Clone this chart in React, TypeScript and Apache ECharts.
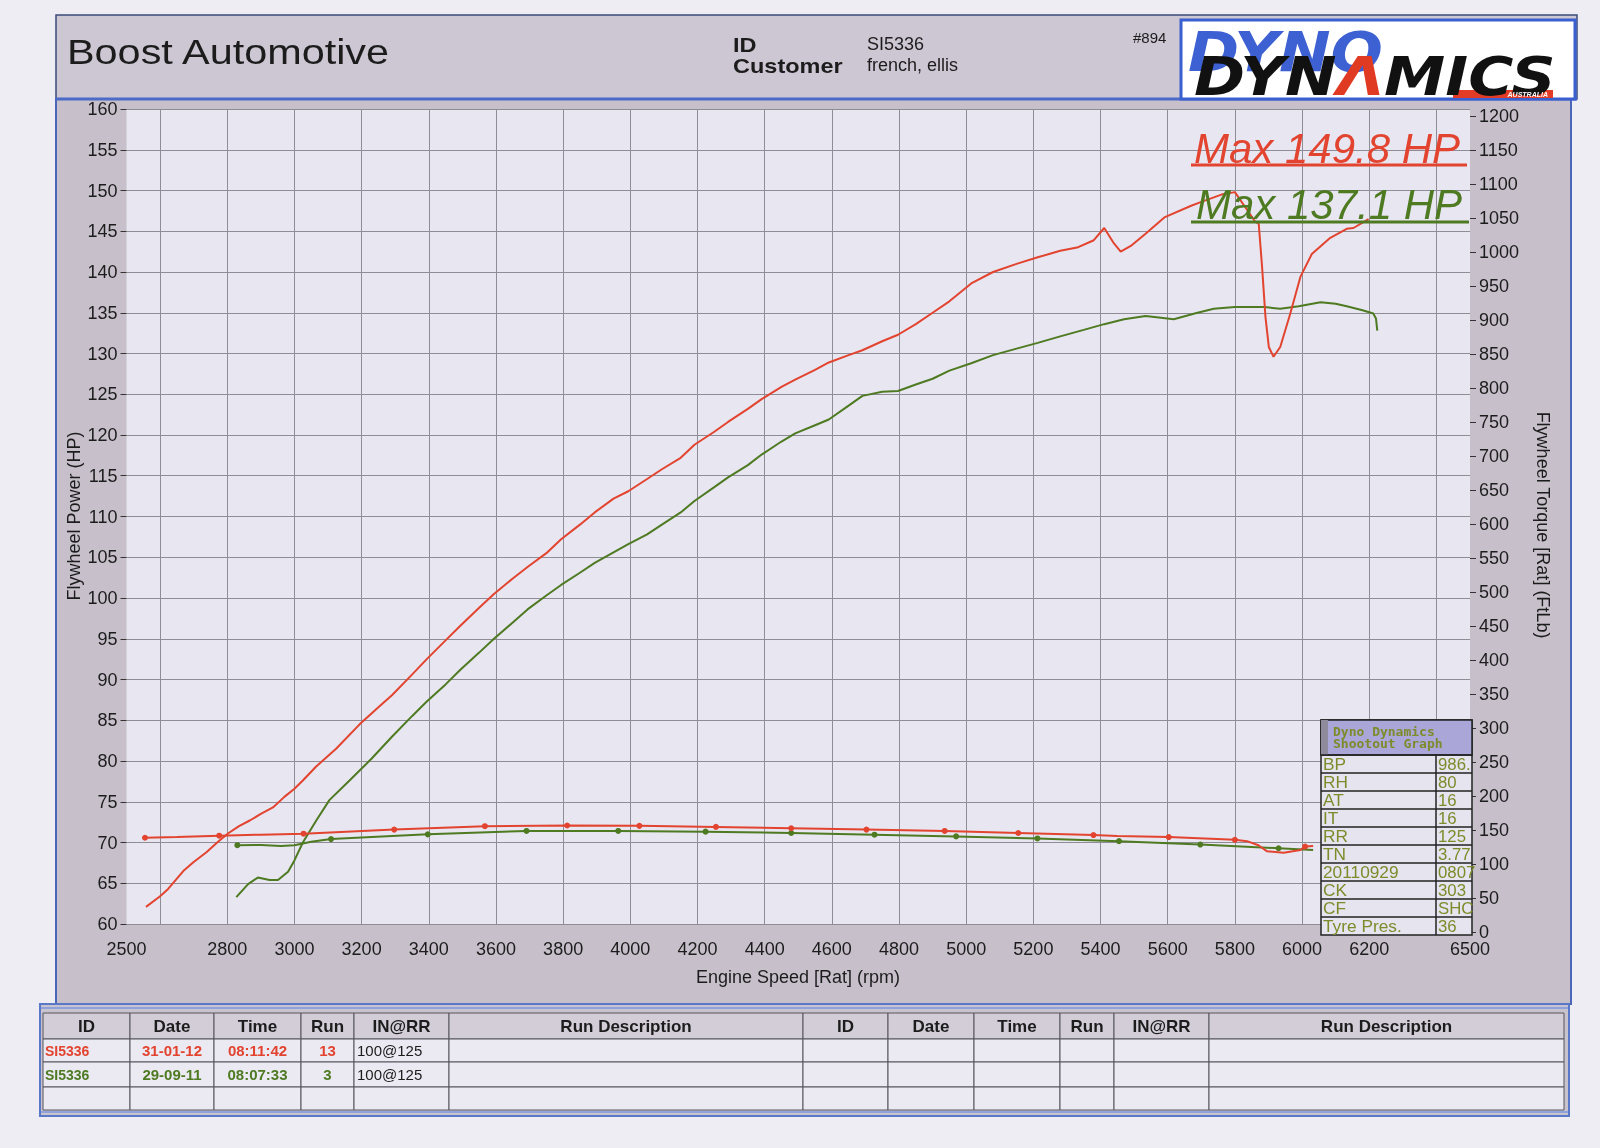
import React, { useEffect, useRef } from "react";
import * as echarts from "echarts";

// ---------- DATA ----------
const redPowerRpm = [2558,2600,2624,2669,2700,2738,2770,2802,2835,2867,2900,2936,2970,3000,3025,3064,3124,3194,3250,3291,3350,3394,3450,3494,3550,3594,3650,3694,3750,3794,3850,3894,3950,3994,4050,4094,4150,4191,4250,4291,4350,4391,4450,4491,4550,4591,4650,4691,4750,4797,4850,4900,4950,5015,5080,5150,5213,5280,5330,5380,5411,5440,5460,5490,5534,5590,5668,5700,5760,5800,5830,5860,5871,5881,5891,5901,5915,5935,5965,5995,6029,6084,6133,6153,6198];
const redPowerHp = [62.1,63.4,64.3,66.5,67.6,68.8,70.0,71.1,72.0,72.7,73.5,74.3,75.6,76.6,77.6,79.3,81.5,84.5,86.6,88.1,90.6,92.5,94.8,96.6,98.8,100.5,102.4,103.8,105.5,107.2,109.0,110.5,112.2,113.1,114.6,115.8,117.2,118.8,120.4,121.6,123.2,124.4,125.9,126.8,128.0,128.9,129.8,130.4,131.5,132.3,133.6,135.0,136.4,138.6,140.0,141.0,141.8,142.6,143.0,143.9,145.4,143.5,142.5,143.2,144.7,146.7,148.1,148.6,149.5,149.8,148.0,146.2,145.9,140.6,134.5,130.8,129.6,130.8,134.9,139.4,142.2,144.2,145.3,145.4,146.5];

const greenPowerRpm = [2827,2862,2891,2926,2951,2981,3000,3025,3065,3104,3164,3230,3291,3350,3394,3450,3494,3550,3594,3650,3694,3750,3794,3850,3894,3950,3994,4050,4094,4150,4191,4250,4291,4350,4391,4450,4491,4550,4591,4650,4691,4750,4797,4850,4900,4950,5015,5080,5150,5213,5280,5350,5411,5470,5534,5580,5618,5680,5737,5800,5886,5935,5990,6055,6100,6133,6180,6212,6220,6224];
const greenPowerHp = [63.3,64.9,65.7,65.4,65.4,66.4,67.8,70.0,72.7,75.2,77.6,80.3,83.0,85.5,87.3,89.4,91.2,93.3,95.0,97.0,98.6,100.3,101.6,103.1,104.3,105.6,106.6,107.8,109.0,110.5,111.9,113.6,114.8,116.3,117.6,119.2,120.2,121.2,121.9,123.6,124.8,125.3,125.4,126.2,126.9,127.9,128.8,129.8,130.6,131.3,132.1,132.9,133.6,134.2,134.6,134.4,134.2,134.9,135.5,135.7,135.7,135.5,135.8,136.3,136.1,135.8,135.3,134.9,134.3,132.8];

const redTorqueRpm = [2555,2650,2776,2900,3027,3297,3567,3812,4027,4255,4479,4703,4936,5155,5379,5450,5603,5800,5836,5870,5896,5945,5995,6009,6033];
const redTorqueFtlb = [127,128,130,131.5,133,139,144,145,144.5,143,141,139,137,134,131,129.5,128,124,122,116,107,105,109,114,115];
const redTorqueMarked = [1,0,1,0,1,1,1,1,1,1,1,1,1,1,1,0,1,1,0,0,0,0,0,1,0];

const greenTorqueRpm = [2830,2900,2960,3000,3050,3109,3397,3691,3964,4224,4479,4727,4970,5212,5455,5697,5930,6033];
const greenTorqueFtlb = [116,116.5,115,116,121,125,132,137,137,136,134,131.5,129,126,122,117,111.5,109];
const greenTorqueMarked = [1,0,0,0,0,1,1,1,1,1,1,1,1,1,1,1,1,0];

const xShownLabels = [2500,2800,3000,3200,3400,3600,3800,4000,4200,4400,4600,4800,5000,5200,5400,5600,5800,6000,6200,6500];

const maxRedLabel = "Max 149.8 HP";
const maxGreenLabel = "Max 137.1 HP";

const tableHeaders = ["ID", "Date", "Time", "Run", "IN@RR", "Run Description"];
const runIds = ["SI5336", "SI5336"];
const runDates = ["31-01-12", "29-09-11"];
const runTimes = ["08:11:42", "08:07:33"];
const runNumbers = ["13", "3"];
const runInRR = ["100@125", "100@125"];

const infoLabels = ["BP", "RH", "AT", "IT", "RR", "TN", "20110929", "CK", "CF", "Tyre Pres."];
const infoValues = ["986.", "80", "16", "16", "125", "3.77", "0807", "303", "SHC", "36"];

// ---------- STYLE ----------
const RED = "#e2442f";
const GREEN = "#4e7a22";
const OLIVE = "#7d8b2b";
const FONT = '"Liberation Sans", Arial, sans-serif';

const PLOT_L = 126.5;
const PLOT_T = 109;
const PLOT_W = 1343.5;
const PLOT_H = 815;
// the scanned torque scale sits a few pixels lower than the power scale
const TQ_T = 116;
const TQ_H = 816;

function zip(a: number[], b: number[]) {
  return a.map((v, i) => [v, b[i]]);
}

function buildGraphic() {
  const els: any[] = [];
  const text = (x: number, y: number, t: string, font: string, fill: string, align = "left", vAlign = "middle", z = 5, extra: any = {}) => ({
    type: "text",
    x,
    y,
    z,
    silent: true,
    ...extra,
    style: { text: t, font, fill, textAlign: align, textVerticalAlign: vAlign, align, verticalAlign: vAlign },
  });
  const rect = (x: number, y: number, w: number, h: number, style: any, z = -10) => ({
    type: "rect", z, silent: true, shape: { x, y, width: w, height: h }, style,
  });
  const line = (x1: number, y1: number, x2: number, y2: number, stroke: string, lw: number, z = -10) => ({
    type: "line", z, silent: true, shape: { x1, y1, x2, y2 }, style: { stroke, lineWidth: lw },
  });

  // page & panels
  els.push(rect(0, 0, 1600, 1148, { fill: "#eeedf4" }, -30));
  els.push(rect(56, 15, 1521, 84, { fill: "#cdc6d3", stroke: "#3b4a7a", lineWidth: 1.5 }, -29));
  els.push(rect(56, 99, 1515, 905, { fill: "#c7c0cb", stroke: "#4a66b8", lineWidth: 2 }, -29));
  els.push(line(56, 99, 1577, 99, "#4a6bc8", 3, -28));
  els.push(rect(PLOT_L, PLOT_T, PLOT_W, PLOT_H, { fill: "#e8e6f1" }, -25));

  // header texts
  els.push(text(67, 51, "Boost Automotive", `36px ${FONT}`, "#1c1c1c", "left", "middle", 5, { scaleX: 1.15 }));
  els.push(text(733, 45, "ID", `bold 21px ${FONT}`, "#1c1c1c", "left", "middle", 5, { scaleX: 1.12 }));
  els.push(text(733, 66, "Customer", `bold 21px ${FONT}`, "#1c1c1c", "left", "middle", 5, { scaleX: 1.12 }));
  els.push(text(867, 44, "SI5336", `18px ${FONT}`, "#1c1c1c"));
  els.push(text(867, 65, "french, ellis", `18px ${FONT}`, "#1c1c1c"));
  els.push(text(1133, 37, "#894", `15px ${FONT}`, "#1c1c1c"));

  // logo
  els.push(rect(1181, 20, 394, 79, { fill: "#ffffff", stroke: "#3a5fcf", lineWidth: 3 }, -20));
  els.push(text(1188, 51, "DYNO", `italic bold 56px "DejaVu Sans"`, "#3d61d2", "left", "middle", 1, { scaleX: 1.1 }));
  els.push(rect(1453, 90, 100, 8, { fill: "#e23c26" }, 2));
  els.push(text(1548, 94.5, "AUSTRALIA", `italic bold 7px ${FONT}`, "#ffffff", "right", "middle", 3));
  els.push({
    type: "text", x: 1194, y: 76, z: 2, silent: true, scaleX: 1.14,
    style: {
      text: "{k|DYN}{r|Λ}{k|MICS}",
      textVerticalAlign: "middle", verticalAlign: "middle",
      rich: {
        k: { font: `italic bold 54px "DejaVu Sans"`, fill: "#111111" },
        r: { font: `italic bold 54px "DejaVu Sans"`, fill: "#e03a22" },
      },
    },
  });

  // axis names
  els.push(text(73.5, 516, "Flywheel Power (HP)", `18px ${FONT}`, "#1c1c1c", "center", "middle", 5, { rotation: Math.PI / 2 }));
  els.push(text(1543, 525, "Flywheel Torque [Rat] (FtLb)", `18px ${FONT}`, "#1c1c1c", "center", "middle", 5, { rotation: -Math.PI / 2 }));
  els.push(text(798, 977, "Engine Speed [Rat] (rpm)", `18px ${FONT}`, "#1c1c1c", "center", "middle"));

  // max labels
  els.push(text(1194, 148, maxRedLabel, `italic 42px ${FONT}`, RED, "left", "middle", 20));
  els.push(line(1191, 165, 1467, 165, RED, 3, 20));
  els.push(text(1196, 204, maxGreenLabel, `italic 42px ${FONT}`, GREEN, "left", "middle", 20));
  els.push(line(1191, 222, 1469, 222, GREEN, 3, 20));

  // info box
  const bx = 1321, by = 720, bw = 151, hh = 35, rh = 18;
  els.push(rect(bx, by, bw, hh + rh * infoLabels.length, { fill: "#e6e4ee", stroke: "#222", lineWidth: 1.5 }, 20));
  els.push(rect(bx, by, bw, hh, { fill: "#aaa6d8", stroke: "#222", lineWidth: 1.5 }, 21));
  els.push(rect(bx, by, 7, hh, { fill: "#8f8b9c" }, 22));
  els.push(text(bx + 12, by + 11, "Dyno Dynamics", `bold 13px "DejaVu Sans Mono"`, OLIVE, "left", "middle", 23));
  els.push(text(bx + 12, by + 23, "Shootout Graph", `bold 13px "DejaVu Sans Mono"`, OLIVE, "left", "middle", 23));
  infoLabels.forEach((lab, i) => {
    const y = by + hh + i * rh;
    els.push(line(bx, y, bx + bw, y, "#222", 1.5, 22));
    els.push(text(bx + 2, y + rh / 2 + 0.5, lab, `16px ${FONT}`, OLIVE, "left", "middle", 23, { scaleX: 1.08 }));
    els.push(text(bx + 117, y + rh / 2 + 0.5, infoValues[i], `16px ${FONT}`, OLIVE, "left", "middle", 23, { scaleX: 1.05 }));
  });
  els.push(line(bx + 115, by + hh, bx + 115, by + hh + rh * infoLabels.length, "#222", 1.5, 22));

  // bottom table
  els.push(rect(40, 1003, 1529, 114, { fill: "#c9c3cd" }, -29));
  els.push(line(40, 1004, 1569, 1004, "#5a78c8", 2, -27));
  els.push(line(40, 1008, 1569, 1008, "#8ea3de", 2, -27));
  els.push(line(40, 1112, 1569, 1112, "#8ea3de", 2, -27));
  els.push(line(40, 1116, 1569, 1116, "#5a78c8", 2, -27));
  els.push(line(40, 1003, 40, 1117, "#5a78c8", 2, -27));
  els.push(line(1569, 1003, 1569, 1117, "#5a78c8", 2, -27));
  const rowEdges = [1013, 1039, 1062, 1087, 1110];
  const groups = [
    [43, 130, 214, 301, 354, 449, 803],
    [803, 888, 974, 1060, 1114, 1209, 1564],
  ];
  groups.forEach((cols, g) => {
    for (let r = 0; r < 4; r++) {
      for (let c = 0; c < 6; c++) {
        els.push(rect(cols[c], rowEdges[r], cols[c + 1] - cols[c], rowEdges[r + 1] - rowEdges[r], {
          fill: r === 0 ? "#d3cdd8" : "#ebe9f1", stroke: "#55555c", lineWidth: 1,
        }, -22));
      }
    }
    tableHeaders.forEach((h, c) => {
      els.push(text((cols[c] + cols[c + 1]) / 2, (rowEdges[0] + rowEdges[1]) / 2, h, `bold 17px ${FONT}`, "#1c1c1c", "center", "middle"));
    });
    if (g === 0) {
      runIds.forEach((id, r) => {
        const color = r === 0 ? RED : GREEN;
        const cy = (rowEdges[r + 1] + rowEdges[r + 2]) / 2;
        els.push(text(cols[0] + 2, cy, id, `bold 14px ${FONT}`, color, "left"));
        els.push(text((cols[1] + cols[2]) / 2, cy, runDates[r], `bold 15px ${FONT}`, color, "center"));
        els.push(text((cols[2] + cols[3]) / 2, cy, runTimes[r], `bold 15px ${FONT}`, color, "center"));
        els.push(text((cols[3] + cols[4]) / 2, cy, runNumbers[r], `bold 15px ${FONT}`, color, "center"));
        els.push(text(cols[4] + 3, cy, runInRR[r], `15px ${FONT}`, "#1c1c1c", "left"));
      });
    }
  });

  return els;
}

function torqueData(rpm: number[], ft: number[], marked: number[]) {
  return rpm.map((r, i) => ({ value: [r, ft[i]], symbol: marked[i] ? "circle" : "none" }));
}

export default function App() {
  const ref = useRef<HTMLDivElement>(null);
  useEffect(() => {
    const chart = echarts.init(ref.current!, null, { renderer: "svg" });
    const gridLine = { show: true, lineStyle: { color: "#8e8d96", width: 1 } };
    const option: any = {
      animation: false,
      grid: [
        { left: PLOT_L, top: PLOT_T, width: PLOT_W, height: PLOT_H, containLabel: false },
        { left: PLOT_L + PLOT_W / 40, top: PLOT_T, width: (PLOT_W / 40) * 38, height: PLOT_H, containLabel: false },
        { left: PLOT_L, top: TQ_T, width: PLOT_W, height: TQ_H, containLabel: false },
      ],
      xAxis: [
        {
          type: "value", gridIndex: 0, min: 2500, max: 6500, interval: 100,
          axisLine: { show: false }, axisTick: { show: false }, splitLine: { show: false },
          axisLabel: {
            margin: 16, fontSize: 18, color: "#1c1c1c", fontFamily: FONT,
            formatter: (v: number) => (xShownLabels.indexOf(v) >= 0 ? String(v) : ""),
          },
        },
        {
          type: "value", gridIndex: 1, min: 2600, max: 6400, interval: 200,
          axisLine: { show: false }, axisTick: { show: false }, axisLabel: { show: false },
          splitLine: gridLine,
        },
        { type: "value", gridIndex: 2, min: 2500, max: 6500, show: false, splitLine: { show: false } },
      ],
      yAxis: [
        {
          type: "value", gridIndex: 0, position: "left", min: 60, max: 160, interval: 5,
          axisLine: { show: false },
          axisTick: { show: true, length: 6, lineStyle: { color: "#333" } },
          axisLabel: { margin: 9, fontSize: 18, color: "#1c1c1c", fontFamily: FONT },
          splitLine: gridLine,
        },
        {
          // torque scale used by the torque curves (shares the plot frame)
          type: "value", gridIndex: 0, position: "right", min: 0, max: 1200, interval: 50,
          show: false, splitLine: { show: false },
        },
        { type: "value", gridIndex: 1, min: 0, max: 1, show: false, splitLine: { show: false } },
        {
          // visible torque scale, placed where the scan prints it
          type: "value", gridIndex: 2, position: "right", min: 0, max: 1200, interval: 50,
          axisLine: { show: false },
          axisTick: { show: true, length: 6, lineStyle: { color: "#333" } },
          axisLabel: { margin: 9, fontSize: 18, color: "#1c1c1c", fontFamily: FONT, formatter: (v: number) => String(v) },
          splitLine: { show: false },
        },
      ],
      series: [
        {
          name: "Power run 13", type: "line", xAxisIndex: 0, yAxisIndex: 0, showSymbol: false,
          data: zip(redPowerRpm, redPowerHp), lineStyle: { color: RED, width: 2 }, itemStyle: { color: RED }, z: 4,
        },
        {
          name: "Power run 3", type: "line", xAxisIndex: 0, yAxisIndex: 0, showSymbol: false,
          data: zip(greenPowerRpm, greenPowerHp), lineStyle: { color: GREEN, width: 2 }, itemStyle: { color: GREEN }, z: 3,
        },
        {
          name: "Torque run 3", type: "line", xAxisIndex: 0, yAxisIndex: 1, symbolSize: 6, showAllSymbol: true,
          data: torqueData(greenTorqueRpm, greenTorqueFtlb, greenTorqueMarked),
          lineStyle: { color: GREEN, width: 2 }, itemStyle: { color: GREEN }, z: 3,
        },
        {
          name: "Torque run 13", type: "line", xAxisIndex: 0, yAxisIndex: 1, symbolSize: 6, showAllSymbol: true,
          data: torqueData(redTorqueRpm, redTorqueFtlb, redTorqueMarked),
          lineStyle: { color: RED, width: 2 }, itemStyle: { color: RED }, z: 4,
        },
      ],
      graphic: { elements: buildGraphic() },
    };
    chart.setOption(option);
    return () => chart.dispose();
  }, []);
  return <div ref={ref} style={{ position: "fixed", left: 0, top: 0, width: 1600, height: 1148 }} />;
}
